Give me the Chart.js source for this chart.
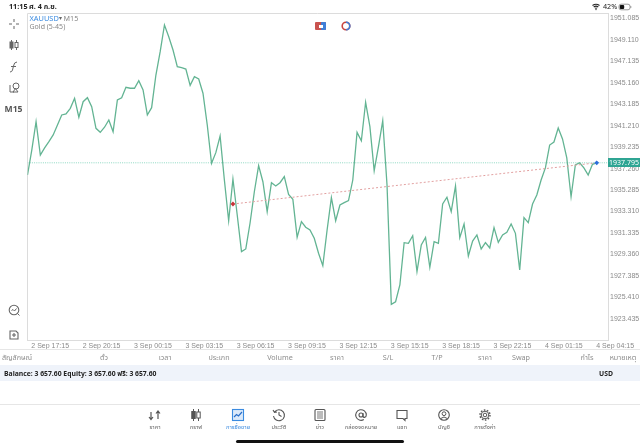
<!DOCTYPE html>
<html><head><meta charset="utf-8">
<script src="https://cdn.jsdelivr.net/npm/chart.js@4/dist/chart.umd.min.js"></script>
<style>
html,body{margin:0;padding:0;background:#fff;width:640px;height:447px;overflow:hidden;font-family:"Liberation Sans",Arial,sans-serif}
#c{position:absolute;left:0;top:0;width:640px;height:447px}
.t{position:absolute;white-space:nowrap;line-height:1;transform:translate(-50%,-50%)}
.l{position:absolute;white-space:nowrap;line-height:1;transform:translateY(-50%)}
svg{position:absolute;overflow:visible}
</style></head><body>
<canvas id="c" width="640" height="447"></canvas>
<div id="ui"></div>
<script>
const closePrices=[1936.67,1938.97,1941.58,1938.51,1939.16,1939.74,1940.36,1941.28,1942.20,1942.29,1942.81,1943.74,1941.99,1943.42,1943.79,1942.96,1940.97,1940.60,1941.07,1941.74,1940.66,1943.58,1943.79,1944.75,1944.66,1944.66,1945.36,1944.50,1942.20,1942.87,1945.88,1948.03,1950.49,1949.41,1948.18,1946.65,1946.55,1946.43,1944.93,1945.73,1945.51,1944.20,1941.28,1937.75,1938.73,1940.26,1936.21,1932.46,1936.30,1932.99,1929.61,1929.86,1932.25,1935.13,1937.53,1936.05,1933.29,1935.96,1935.66,1935.96,1936.52,1934.89,1934.43,1930.93,1932.37,1931.86,1931.61,1930.84,1929.46,1928.32,1931.61,1934.58,1932.46,1933.91,1934.12,1934.31,1936.21,1940.60,1939.83,1943.37,1941.12,1937.07,1939.28,1941.67,1935.75,1924.76,1925.00,1926.54,1930.44,1930.38,1931.08,1927.77,1930.22,1930.92,1928.17,1930.53,1930.38,1934.00,1934.62,1933.29,1935.66,1930.90,1932.16,1929.21,1930.59,1931.15,1929.86,1930.44,1929.95,1931.82,1930.47,1931.15,1931.39,1932.16,1931.30,1927.92,1932.74,1932.28,1934.00,1934.83,1936.21,1937.32,1939.43,1939.71,1941.00,1939.99,1938.24,1934.67,1937.59,1937.80,1937.32,1936.67,1937.66,1937.78];
const priceTicks=[1951.085,1949.110,1947.135,1945.160,1943.185,1941.210,1939.235,1937.260,1935.285,1933.310,1931.335,1929.360,1927.385,1925.410,1923.435];
const timeTickBars=[5.3,17.3,29.3,41.3,53.3,65.3,77.3,89.3,101.3,113.3,125.3,137.3];
const timeTickLabels=["2 Sep 17:15","2 Sep 20:15","3 Sep 00:15","3 Sep 03:15","3 Sep 06:15","3 Sep 09:15","3 Sep 12:15","3 Sep 15:15","3 Sep 18:15","3 Sep 22:15","4 Sep 01:15","4 Sep 04:15"];
const currentPrice=1937.795;
const tradeBars=[48,133];
const tradePrices=[1934.00,1937.795];

const lineData=closePrices.map((p,i)=>({x:i,y:p}));
const axisFont={family:'"Liberation Sans",Arial,sans-serif',size:7};
new Chart(document.getElementById('c'),{
  type:'line',
  data:{datasets:[
    {label:'XAUUSD',data:lineData,borderColor:'#63b493',borderWidth:1.3,pointRadius:0,tension:0,order:2},
    {label:'Price',data:[{x:0,y:currentPrice},{x:135.63,y:currentPrice}],borderColor:'#8ed8c2',borderWidth:1,borderDash:[1,1.2],pointRadius:0,order:3},
    {label:'Trade',data:tradeBars.map((b,i)=>({x:b,y:tradePrices[i]})),borderColor:'#e2a0a0',borderWidth:1,borderDash:[2,2],
      pointStyle:'rectRot',pointRadius:2.4,pointBorderWidth:0,pointBackgroundColor:['#c8343a','#2a6fdc'],order:1}
  ]},
  options:{
    responsive:false,animation:false,devicePixelRatio:1,
    layout:{padding:{left:27.5,top:13.5,right:0,bottom:95}},
    plugins:{legend:{display:false},tooltip:{enabled:false}},
    scales:{
      x:{type:'linear',min:0,max:135.63,
        afterBuildTicks:s=>{s.ticks=timeTickBars.map(v=>({value:v}));},
        afterFit:s=>{s.height=12;},
        grid:{display:false,drawTicks:false},border:{display:true,color:'#dcdcdc',width:1},
        ticks:{autoSkip:false,maxRotation:0,minRotation:0,padding:1.5,color:'#8a8a8a',font:axisFont,
          callback:(v,i)=>timeTickLabels[i]}},
      y:{type:'linear',position:'right',min:1921.475,max:1951.545,
        afterBuildTicks:s=>{s.ticks=priceTicks.map(v=>({value:v}));},
        afterFit:s=>{s.width=32;},
        grid:{display:false,drawTicks:false},border:{display:true,color:'#dcdcdc',width:1},
        ticks:{autoSkip:false,padding:2,color:'#8a8a8a',font:axisFont,callback:v=>v.toFixed(3)}}
    }
  },
  plugins:[{id:'frame',beforeDraw(ch){const c=ch.ctx,a=ch.chartArea;c.save();c.strokeStyle='#dcdcdc';c.lineWidth=1;
    c.beginPath();c.moveTo(a.left,a.top);c.lineTo(a.right,a.top);c.moveTo(a.left,a.top);c.lineTo(a.left,a.bottom);c.stroke();c.restore();}}]
});

const th='"Noto Sans Thai","Liberation Sans","Noto Sans",sans-serif';
const ui=document.getElementById('ui');
function txt(s,x,y,size,color,weight,left){const d=document.createElement('div');d.className=left?'l':'t';d.textContent=s;
  d.style.cssText=`left:${x}px;top:${y}px;font-size:${size}px;color:${color};font-weight:${weight||400};font-family:${th}`;ui.appendChild(d);return d;}
function box(x,y,w,h,bg,r){const d=document.createElement('div');d.style.cssText=`position:absolute;left:${x}px;top:${y}px;width:${w}px;height:${h}px;background:${bg};border-radius:${r||0}px`;ui.appendChild(d);return d;}
function svg(x,y,body,col){const s=document.createElementNS('http://www.w3.org/2000/svg','svg');s.setAttribute('width',16);s.setAttribute('height',16);s.style.left=(x-8)+'px';s.style.top=(y-8)+'px';s.setAttribute('viewBox','-8 -8 16 16');
  s.innerHTML=`<g fill="none" stroke="${col||'#666'}" stroke-width="1">${body}</g>`;ui.appendChild(s);}

// status bar
txt('11:15',9,6.5,7.2,'#222',700,true);
txt('ศ. 4 ก.ย.',29,6.5,7.2,'#222',700,true);
txt('42%',603,6.5,7.2,'#222',400,true);
svg(596,6.5,'<path d="M-3.5-1.5Q0-4 3.5-1.5M-2.3 0Q0-1.8 2.3 0M-1 1.4Q0 .6 1 1.4" stroke="#222" stroke-width="1.1"/><circle cx="0" cy="2.6" r=".7" fill="#222" stroke="none"/>');
svg(625,6.5,'<rect x="-6" y="-2.8" width="11" height="5.6" rx="2" stroke="#999"/><rect x="-5.2" y="-2" width="4.4" height="4" rx="1" fill="#111" stroke="none"/><path d="M5.8-1v2" stroke="#999"/>');

// chart header
txt('XAUUSD',29.5,19,7.4,'#3b8be0',400,true);
txt('▾',58.5,19,6,'#666',400,true);
txt('M15',63.5,19,7.2,'#888',400,true);
txt('Gold (5-45)',29.5,27,7,'#888',400,true);

// price tag
box(608,158.3,32,9,'#2fa593');
txt('1937.795',624,163,7,'#fff');

// chart toolbar icons
box(315,22,11,8,'#c9534f',1);box(320.5,22,5.5,8,'#3f7fd8',1);box(318.5,24.5,4,3,'#fff');
svg(346,26,'<circle r="3.8" stroke="#c9443f" stroke-width="1.6"/><path d="M0-3.8A3.8 3.8 0 0 1 0 3.8" stroke="#3f7fd8" stroke-width="1.6"/>');

// left tools
svg(13.5,24,'<path d="M-5 0H-2M2 0H5M0-5V-2M0 2V5"/>');
svg(13.5,45,'<path d="M-2.5-5V5M2.5-5V5"/><rect x="-4" y="-3" width="3" height="6" fill="#666"/><rect x="1" y="-2.5" width="3" height="5" fill="#fff"/>');
svg(13.5,66.5,'<path d="M3-5Q0-5 -.5-1L-1.5 3Q-2 5-4 5M-3-.5H2"/>');
svg(13.5,88,'<circle cx="2" cy="-2" r="3"/><path d="M-4-3V4H0"/><path d="M-1 4L1.5 .5 4 4Z"/>');
txt('M15',13.5,110,8.6,'#555',700);
svg(13.5,309.5,'<circle cx="0" cy="0" r="4.8" stroke-width="1.1"/><path d="M-2.5 .5L-1 -.5 .5 1 2.5-1.5M3.5 3.5L5.5 5.5"/>');
svg(13.5,335,'<path d="M-4-4H2L4-2V4H-4ZM-2 0H2M0-2V2" stroke-width="1.1"/>');

// trade table
box(0,349,640,1,'#e6e6e6');
const heads=[['สัญลักษณ์',17],['ตั๋ว',104],['เวลา',165],['ประเภท',219],['Volume',280],['ราคา',337],['S/L',388],['T/P',437],['ราคา',485],['Swap',521],['กำไร',587],['หมายเหตุ',623]];
heads.forEach(h=>txt(h[0],h[1],357.5,7.2,'#8d8d8d'));
box(0,365,640,16,'#eff3fa');
txt('Balance: 3 657.60 Equity: 3 657.60 ฟรี: 3 657.60',4,373.5,6.8,'#222',700,true);
txt('USD',599,373.5,6.8,'#222',700,true);

// tab bar
box(0,404,640,1,'#e6e6e6');
const tabs=[['ราคา',155],['กราฟ',196],['การซื้อขาย',238],['ประวัติ',279],['ข่าว',320],['กล่องจดหมาย',361],['แชท',402],['บัญชี',444],['การตั้งค่า',485]];
tabs.forEach((t,i)=>txt(t[0],t[1],427.5,5.8,i===2?'#3b8be0':'#666'));
svg(155,415,'<path d="M-4-3V4M-6 2L-4 4.5-2 2M3 4V-3.5M1-1.5L3-4 5-1.5" stroke="#555" stroke-width="1.2"/>');
svg(196,415,'<path d="M-2.5-6V6M2.5-6V6" stroke="#555"/><rect x="-4.2" y="-3.5" width="3.4" height="7" fill="#555" stroke="#555"/><rect x=".8" y="-3" width="3.4" height="6" fill="#fff" stroke="#555"/>');
svg(238,415,'<rect x="-5.5" y="-5.5" width="11" height="11" fill="#dbe9fa" stroke="#3b8be0" stroke-width="1.1"/><path d="M-4 2L-1.5-.5 .5 1 4-3" stroke="#2a6fc8" stroke-width="1.2"/>');
svg(279,415,'<path d="M-4.5-3A5.5 5.5 0 1 1-5.5 1M-6-5L-4.5-2.7-2-3M0-3V0L2.5 1.5" stroke="#555" stroke-width="1.1"/>');
svg(320,415,'<rect x="-5" y="-5.5" width="10" height="11" rx="1" stroke="#555" stroke-width="1.1"/><path d="M-3-3H3M-3-1H3M-3 1H3M-3 3H3" stroke="#555" stroke-width=".8"/>');
svg(361,415,'<circle r="2" stroke="#555" stroke-width="1.1"/><path d="M2 -2V.8Q2 2.4 3.6 2.4 5.3 2.2 5.3 0A5.3 5.3 0 1 0 2.8 4.5" stroke="#555" stroke-width="1.1"/>');
svg(402,415,'<path d="M-5-4.5H5V3.5H3V5.5L1 3.5H-5Z" stroke="#555" stroke-width="1.1"/>');
svg(444,415,'<circle r="5.3" stroke="#555" stroke-width="1.1"/><circle cy="-1.3" r="1.9" stroke="#555"/><path d="M-3.3 3.5Q0 .5 3.3 3.5" stroke="#555"/>');
svg(485,415,'<circle r="1.8" stroke="#555"/><circle r="3.8" stroke="#555" stroke-width="1"/><circle r="5" stroke="#555" stroke-width="1.4" stroke-dasharray="1.6 1.5"/>');
box(236,440,168,3,'#111',1.5);
</script>
</body></html>
